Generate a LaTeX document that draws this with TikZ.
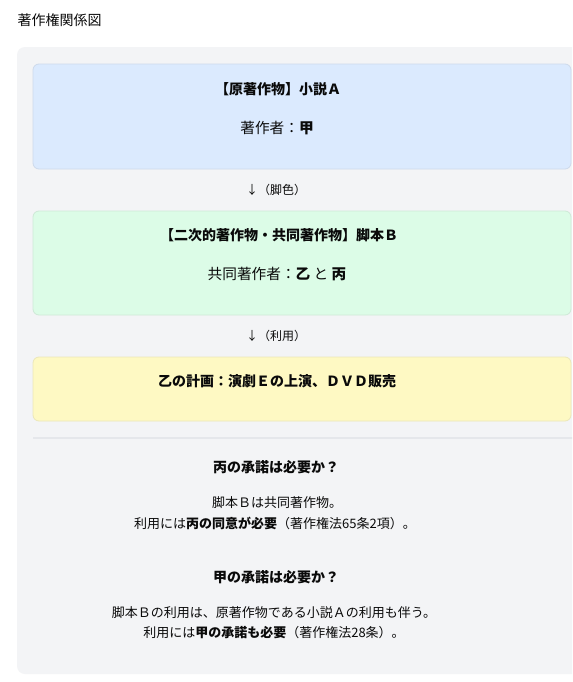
\documentclass[tikz,border=0pt]{standalone}
\usepackage{fontspec}
\setmainfont{Noto Sans CJK JP}
\usepackage{tikz}
\usetikzlibrary{positioning}

\definecolor{panelbg}{HTML}{F3F4F6}
\definecolor{blueA}{HTML}{DBEAFE}
\definecolor{greenB}{HTML}{DCFCE7}
\definecolor{yellowC}{HTML}{FEF9C3}
\definecolor{ruleC}{HTML}{E5E7EB}
\definecolor{inkC}{HTML}{0A0A0A}

\begin{document}
\begin{tikzpicture}[x=0.75pt,y=-0.75pt,
	head/.style={inkC,font=\fontsize{10.5pt}{12pt}\selectfont\bfseries},
	sub/.style={inkC,font=\fontsize{11pt}{13pt}\selectfont},
	flow/.style={inkC,font=\fontsize{9pt}{11pt}\selectfont},
	body/.style={inkC,font=\fontsize{9.75pt}{12pt}\selectfont},
	card/.style={rounded corners=4.5pt,line width=0.6pt}]
\clip (0,0) rectangle (572,682);
\fill[white] (0,0) rectangle (572,682);
\node[inkC,anchor=west,font=\fontsize{10.5pt}{12pt}\selectfont] (title) at (13,20) {著作権関係図};
% panel
\fill[panelbg,rounded corners=6pt] (17,47) rectangle (600,674);
% cards
\filldraw[card,fill=blueA,draw=blueA!85!gray] (33,64) rectangle (571,169);
\filldraw[card,fill=greenB,draw=greenB!85!gray] (33,211) rectangle (571,315);
\filldraw[card,fill=yellowC,draw=yellowC!85!gray] (33,357) rectangle (571,421);
\draw[ruleC,line width=0.8pt] (33,438)--(600,438);
% texts
\node[head] (srcT) at (278,89) {【原著作物】小説Ａ};
\node[sub] (srcW) at (277,128) {著作者：\textbf{甲}};
\node[flow] (adapt) at (276,190) {↓（脚色）};
\node[head] (scrT) at (279,235) {【二次的著作物・共同著作物】脚本Ｂ};
\node[sub] (scrW) at (277,274) {共同著作者：\textbf{乙} と \textbf{丙}};
\node[flow] (use) at (276,336) {↓（利用）};
\node[head] (planT) at (277,381) {乙の計画：演劇Ｅの上演、ＤＶＤ販売};
\node[head] (qHei) at (276,467) {丙の承諾は必要か？};
\node[body] (aHei1) at (277,503) {脚本Ｂは共同著作物。};
\node[body] (aHei2) at (275,523) {利用には\textbf{丙の同意が必要}（著作権法65条2項）。};
\node[head] (qKou) at (276,577) {甲の承諾は必要か？};
\node[body] (aKou1) at (274,613) {脚本Ｂの利用は、原著作物である小説Ａの利用も伴う。};
\node[body] (aKou2) at (274,633) {利用には\textbf{甲の承諾も必要}（著作権法28条）。};
\end{tikzpicture}
\end{document}
